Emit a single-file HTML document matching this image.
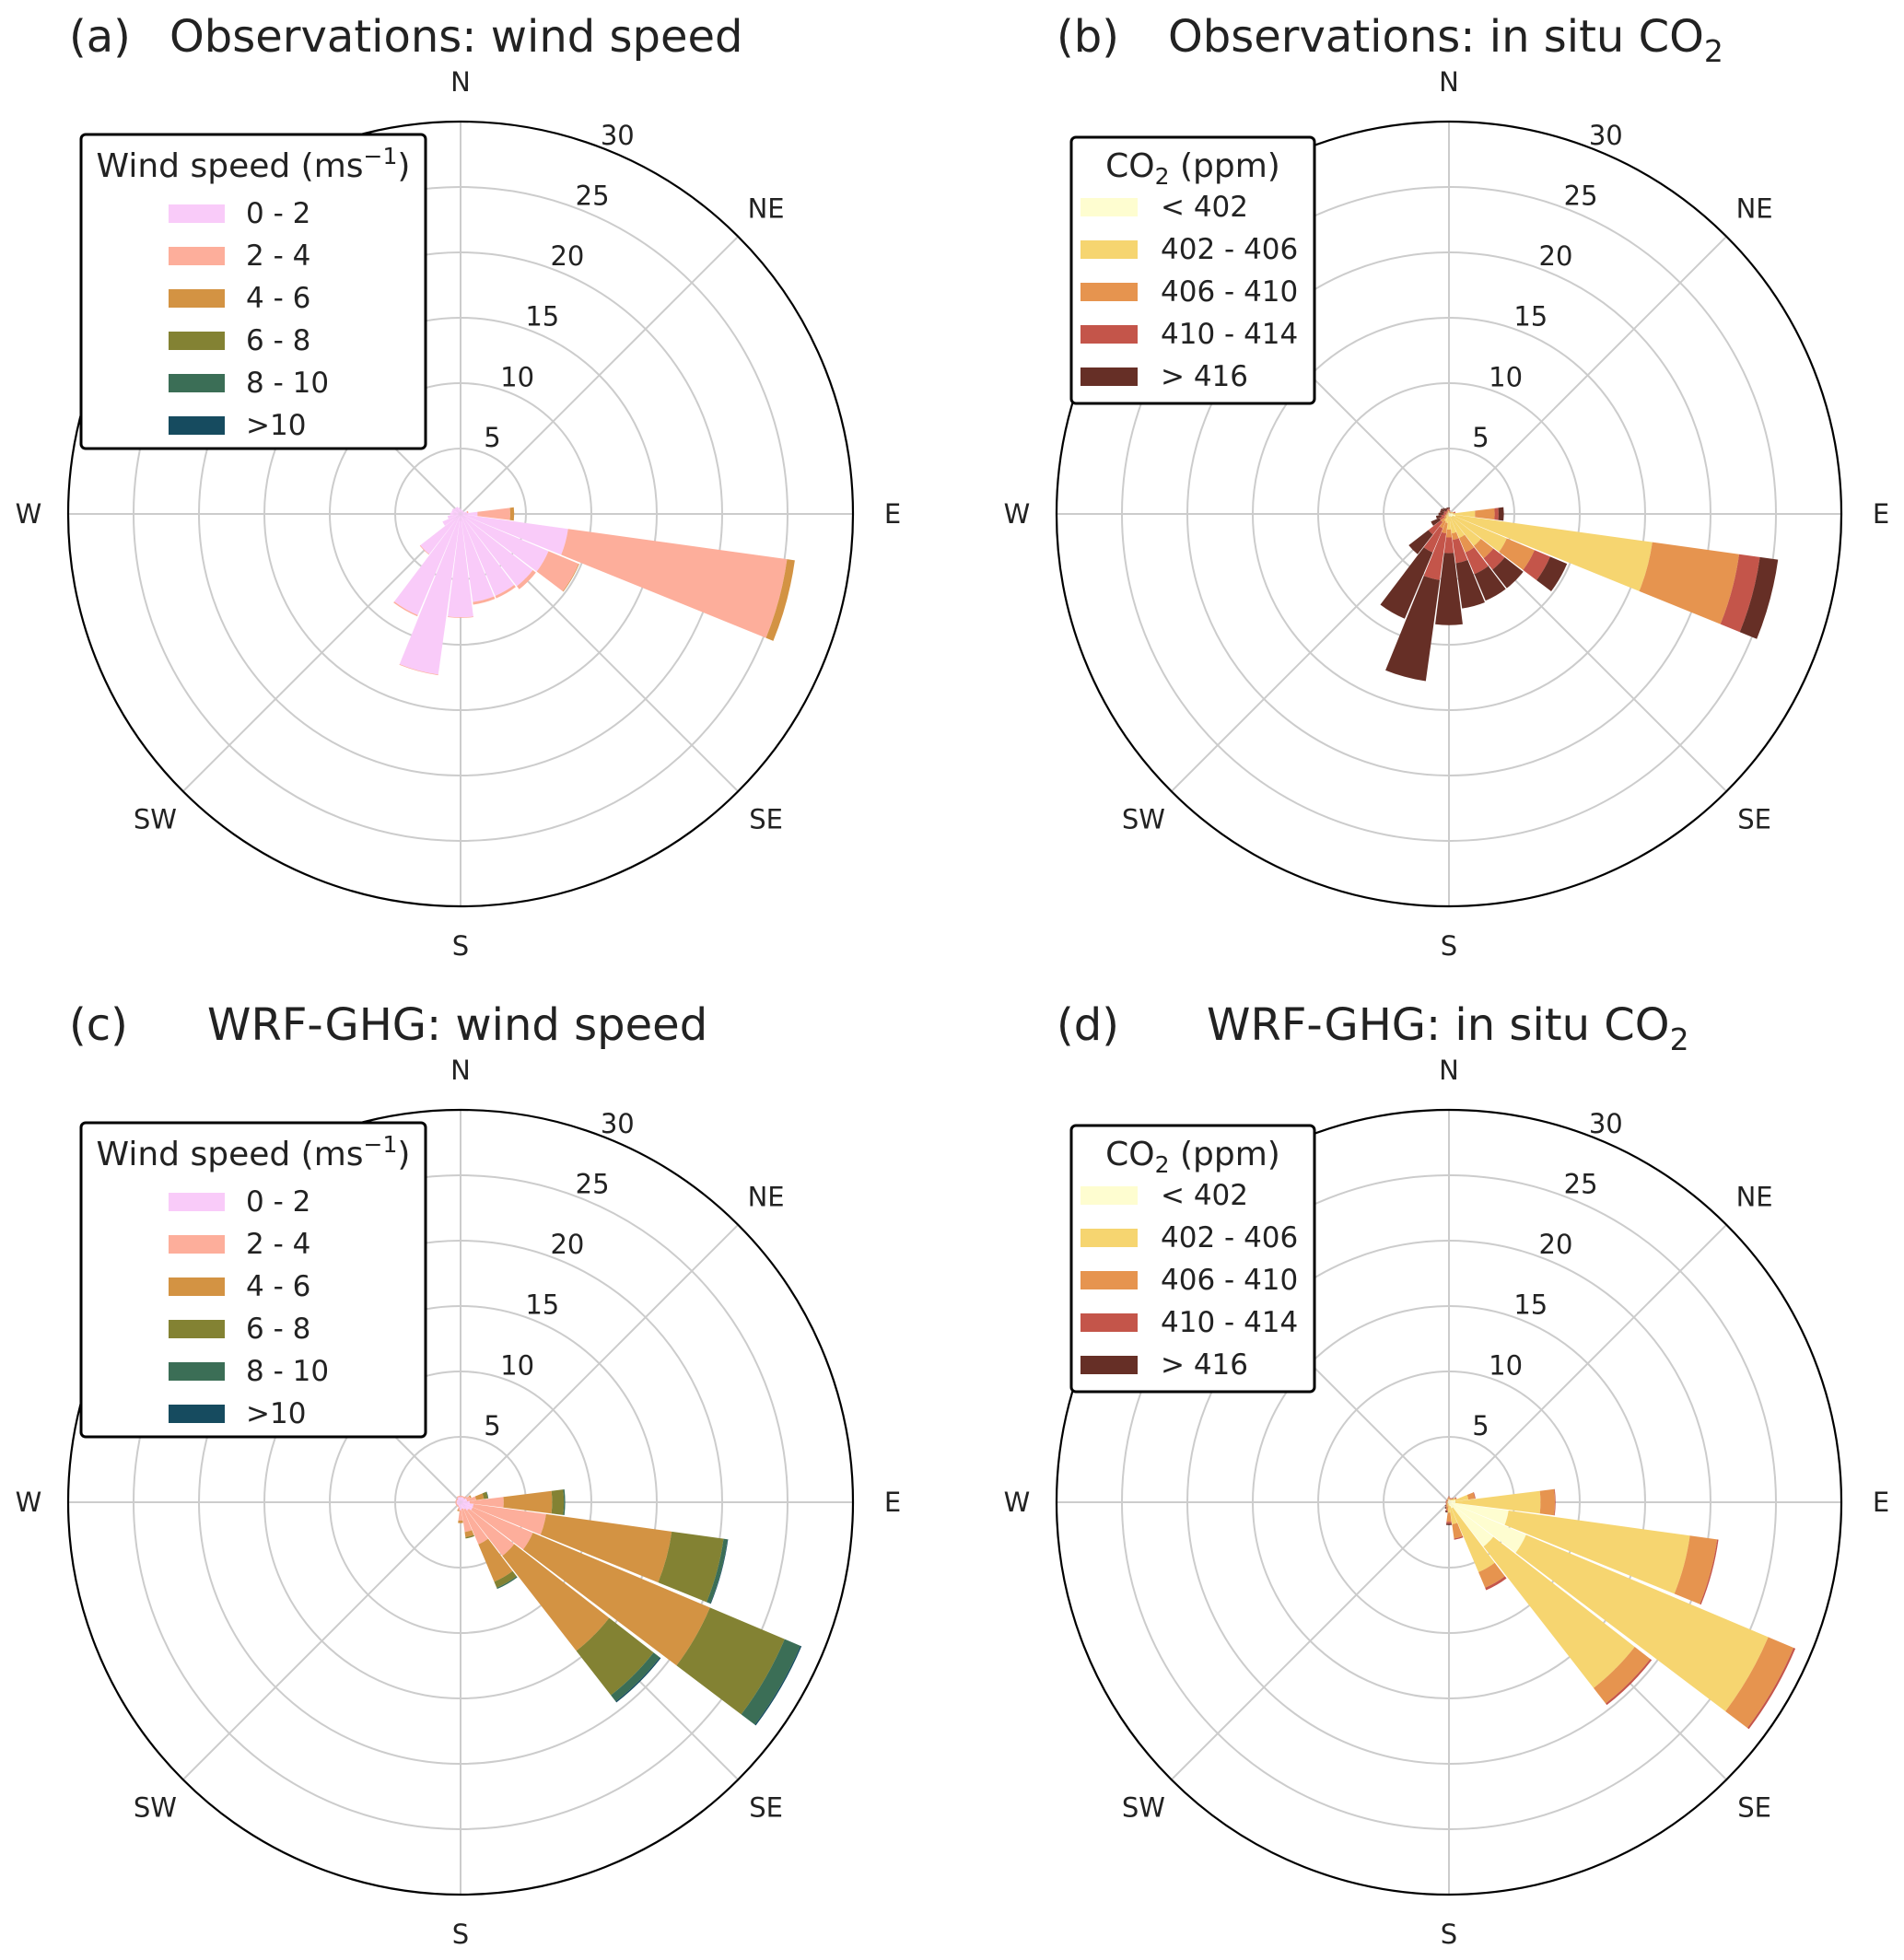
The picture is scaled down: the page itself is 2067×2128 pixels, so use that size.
<!DOCTYPE html>
<html><head><meta charset="utf-8"><style>
html,body{margin:0;padding:0;background:#fff;}
svg{display:block;font-family:"DejaVu Sans","Liberation Sans",sans-serif;}
</style></head><body>
<svg id="fig" width="2067" height="2128" viewBox="0 0 2067 2128" xmlns="http://www.w3.org/2000/svg"></svg>
<script>
// sectors: compass directions (deg) of the 24 bins
const sectors = [0,15,30,45,60,75,90,105,120,135,150,165,180,195,210,225,240,255,270,285,300,315,330,345];
const radialTicks = [5,10,15,20,25,30];
const compassLabels = ["N","NE","E","SE","S","SW","W","NW"];
const windLabels = ["0 - 2","2 - 4","4 - 6","6 - 8","8 - 10",">10"];
const co2Labels = ["< 402","402 - 406","406 - 410","410 - 414","> 416"];

// panel (a) observed wind speed, % frequency per bin
const a_ws0 = [0.4,0.3,0.3,0.3,0.3,0.5,1.3,8.3,7.3,7.0,6.8,6.8,7.9,12.4,8.4,3.9,1.5,1.0,0.8,0.7,0.7,0.6,0.6,0.5];
const a_ws1 = [0,0,0,0,0,0.1,2.5,16.9,2.5,0.3,0.2,0.2,0.05,0.05,0.1,0.05,0,0,0,0,0,0,0,0];
const a_ws2 = [0,0,0,0,0,0,0.3,0.6,0.05,0,0,0,0,0,0,0,0,0,0,0,0,0,0,0];
const a_ws3 = [0,0,0,0,0,0,0,0,0,0,0,0,0,0,0,0,0,0,0,0,0,0,0,0];
const a_ws4 = [0,0,0,0,0,0,0,0,0,0,0,0,0,0,0,0,0,0,0,0,0,0,0,0];
const a_ws5 = [0,0,0,0,0,0,0,0,0,0,0,0,0,0,0,0,0,0,0,0,0,0,0,0];

// panel (b) observed CO2
const b_c0 = [0.1,0.1,0.1,0.1,0.1,0.1,0.3,0.5,0.3,0.3,0.2,0.2,0.2,0.1,0.1,0,0,0,0,0,0,0,0,0.1];
const b_c1 = [0.1,0,0,0,0.1,0.2,1.7,15.2,4.5,2.8,1.8,1.3,1.0,0.6,0.5,0.3,0.2,0.1,0.1,0.1,0.1,0.1,0.1,0.1];
const b_c2 = [0.1,0.1,0.1,0.1,0.1,0.1,1.5,6.7,2.3,1.2,1.2,0.5,0.6,0.8,0.6,0.5,0.2,0.2,0.1,0.1,0.1,0.1,0.1,0.1];
const b_c3 = [0.1,0.1,0,0,0,0.1,0.3,1.6,1.3,1.1,1.8,1.8,1.2,3.6,2.0,1.2,0.4,0.3,0.2,0.2,0.2,0.1,0.1,0.1];
const b_c4 = [0.1,0,0,0,0,0,0.4,1.4,1.4,1.8,2.2,3.5,5.5,7.8,5.5,1.9,0.7,0.4,0.4,0.3,0.3,0.3,0.2,0.1];

// panel (c) WRF-GHG wind speed
const c_ws0 = [0.4,0.4,0.4,0.4,0.5,0.5,0.7,1.0,1.0,0.8,0.6,0.5,0.6,0.4,0.3,0.3,0.3,0.3,0.3,0.3,0.3,0.3,0.4,0.4];
const c_ws1 = [0.1,0.1,0.1,0.2,0.3,0.7,2.6,5.6,5.0,4.4,2.9,1.8,0.8,0.2,0.1,0.1,0.1,0.1,0.1,0.1,0.1,0.1,0.1,0.1];
const c_ws2 = [0,0,0,0,0.1,0.6,3.7,9.7,14.7,9.2,3.1,0.4,0.2,0.1,0,0,0,0,0,0,0,0,0,0];
const c_ws3 = [0,0,0,0,0,0.3,0.9,4.0,6.2,4.3,0.5,0.1,0,0,0,0,0,0,0,0,0,0,0,0];
const c_ws4 = [0,0,0,0,0,0.05,0.1,0.3,1.3,0.6,0.1,0,0,0,0,0,0,0,0,0,0,0,0,0];
const c_ws5 = [0,0,0,0,0,0,0,0.05,0.1,0.1,0,0,0,0,0,0,0,0,0,0,0,0,0,0];

// panel (d) WRF-GHG CO2
const d_c0 = [0.2,0.2,0.2,0.2,0.3,0.5,0.5,4.6,6.4,4.3,0.5,0.3,0.2,0.1,0.1,0.1,0.1,0.1,0.1,0.1,0.1,0.1,0.1,0.2];
const d_c1 = [0.1,0,0,0.1,0.2,1.0,6.5,14.0,20.1,13.7,5.3,1.4,0.6,0.2,0.1,0.1,0,0,0,0,0,0,0,0];
const d_c2 = [0.1,0.1,0.1,0.1,0.1,0.5,1.1,2.1,2.1,1.5,1.3,1.1,0.7,0.3,0.2,0.1,0.1,0.1,0.1,0.1,0.1,0.1,0.1,0.1];
const d_c3 = [0.05,0.05,0.05,0.05,0.05,0.05,0.05,0.1,0.15,0.15,0.2,0.1,0.15,0.1,0.05,0.05,0.05,0.05,0.05,0.05,0.05,0.05,0.05,0.05];
const d_c4 = [0,0,0,0,0,0,0,0,0,0,0,0,0.1,0.1,0.1,0.05,0,0,0,0,0,0,0,0];

const windColors = ["#f9cbf9","#fdae9b","#d39343","#838233","#3b6e56","#164b5f"];
const co2Colors = ["#fefdd0","#f6d570","#e6944f","#c4554a","#662f26"];

const NS = "http://www.w3.org/2000/svg";
const svg = document.getElementById("fig");
const R = 426, RMAX = 30;
function rScale(v){ return v * R / RMAX; }
function pt(cx, cy, deg, r){ const a = deg*Math.PI/180; return [cx + r*Math.sin(a), cy - r*Math.cos(a)]; }
function mk(tag, attrs, parent){ const e = document.createElementNS(NS, tag); for (const k in attrs) e.setAttribute(k, attrs[k]); (parent||svg).appendChild(e); return e; }

function wedge(cx, cy, deg, r0, r1, width, color, g){
  const a0 = deg - width/2, a1 = deg + width/2;
  const p0 = pt(cx,cy,a0,r1), p1 = pt(cx,cy,a1,r1), p2 = pt(cx,cy,a1,r0), p3 = pt(cx,cy,a0,r0);
  const d = `M${p0[0]},${p0[1]} A${r1},${r1} 0 0 1 ${p1[0]},${p1[1]} L${p2[0]},${p2[1]} A${r0},${r0} 0 0 0 ${p3[0]},${p3[1]} Z`;
  return mk("path", {d: d, fill: color}, g);
}

function drawPanel(p){
  const g = mk("g", {});
  
  
  const cx = p.cx, cy = p.cy;
  const t1 = mk("text", {x: p.lx, y: p.ty, "font-size": 48, fill: "#222"}, g);
  t1.textContent = "(" + p.id + ")";
  
  
  const t2 = mk("text", {x: p.tx, y: p.ty, "font-size": 48, fill: "#222"}, g);
  
  
  if (p.co2) {
    t2.appendChild(document.createTextNode(p.title + "CO"));
    const s = mk("tspan", {"font-size": 33, dy: 11}, t2); s.textContent = "2";
  } else t2.textContent = p.title;
  radialTicks.forEach(v => {
    if (v === RMAX) return;
    const c = mk("circle", {cx: cx, cy: cy, r: rScale(v), fill: "none", stroke: "#cccccc", "stroke-width": 2}, g);
    
    
  });
  for (let k = 0; k < 8; k++) {
    const e = pt(cx, cy, k*45, R);
    const l = mk("line", {x1: cx, y1: cy, x2: e[0], y2: e[1], stroke: "#cccccc", "stroke-width": 2}, g);
    
    
  }
  const series = p.series;
  sectors.forEach((deg, i) => {
    let base = 0;
    series.forEach((arr, s) => {
      const v = arr[i];
      if (v > 0) {
        const w = wedge(cx, cy, deg, rScale(base), rScale(base + v), 14.2, p.colors[s], g);
        
        
      }
      base += v;
    });
  });
  const o = mk("circle", {cx: cx, cy: cy, r: R, fill: "none", stroke: "#000", "stroke-width": 2.2}, g);
  
  
  radialTicks.forEach(v => {
    const q = pt(cx, cy, 22.5, rScale(v) + 19);
    const t = mk("text", {x: q[0], y: q[1], "font-size": 29, fill: "#222", "text-anchor": "middle", "dominant-baseline": "central"}, g);
    t.textContent = v;
    
    
  });
  compassLabels.forEach((lab, k) => {
    const q = pt(cx, cy, k*45, 469);
    const t = mk("text", {x: q[0], y: q[1], "font-size": 29, fill: "#222", "text-anchor": "middle", "dominant-baseline": "central"}, g);
    t.textContent = lab;
    
    
  });
  const lg = mk("g", {}, g);
  
  
  const L = p.leg;
  mk("rect", {x: cx + L.x0, y: cy + L.y0, width: L.x1 - L.x0, height: L.y1 - L.y0, rx: 5, fill: "#fff", stroke: "#000", "stroke-width": 3}, lg);
  const lt = mk("text", {x: cx + L.tx, y: cy + L.ty, "font-size": 36, fill: "#222", "text-anchor": "middle"}, lg);
  
  
  if (p.co2) {
    lt.appendChild(document.createTextNode("CO"));
    const s = mk("tspan", {"font-size": 25, dy: 8}, lt); s.textContent = "2";
    const s2 = mk("tspan", {dy: -8}, lt); s2.textContent = " (ppm)";
  } else {
    lt.appendChild(document.createTextNode("Wind speed (ms"));
    const s = mk("tspan", {"font-size": 25, dy: -14}, lt); s.textContent = "\u22121";
    const s2 = mk("tspan", {dy: 14}, lt); s2.textContent = ")";
  }
  p.labels.forEach((lab, i) => {
    const yc = cy + L.row0 + i * 46;
    const r = mk("rect", {x: cx + L.px0, y: yc - 10, width: L.px1 - L.px0, height: 20, fill: p.colors[i]}, lg);
    
    
    const t = mk("text", {x: cx + L.txl, y: yc, "font-size": 31, fill: "#222", "dominant-baseline": "central"}, lg);
    t.textContent = lab;
    
    
  });
}

const windLeg = {x0:-412, x1:-38, y0:-412, y1:-71, tx:-225, ty:-366, row0:-326, px0:-317, px1:-256, txl:-233};
const co2Leg = {x0:-410, x1:-146, y0:-409, y1:-120, tx:-278, ty:-366, row0:-333, px0:-400, px1:-338, txl:-313};

drawPanel({id:"a", cx:500, cy:558, lx:75, tx:184, ty:56, title:"Observations: wind speed", co2:false,
  series:[a_ws0,a_ws1,a_ws2,a_ws3,a_ws4,a_ws5], colors:windColors, labels:windLabels, leg:windLeg});
drawPanel({id:"b", cx:1573, cy:558, lx:1147, tx:1268, ty:56, title:"Observations: in situ ", co2:true,
  series:[b_c0,b_c1,b_c2,b_c3,b_c4], colors:co2Colors, labels:co2Labels, leg:co2Leg});
drawPanel({id:"c", cx:500, cy:1631, lx:75, tx:225, ty:1129, title:"WRF-GHG: wind speed", co2:false,
  series:[c_ws0,c_ws1,c_ws2,c_ws3,c_ws4,c_ws5], colors:windColors, labels:windLabels, leg:windLeg});
drawPanel({id:"d", cx:1573, cy:1631, lx:1147, tx:1310, ty:1129, title:"WRF-GHG: in situ ", co2:true,
  series:[d_c0,d_c1,d_c2,d_c3,d_c4], colors:co2Colors, labels:co2Labels, leg:co2Leg});
</script>
</body></html>
